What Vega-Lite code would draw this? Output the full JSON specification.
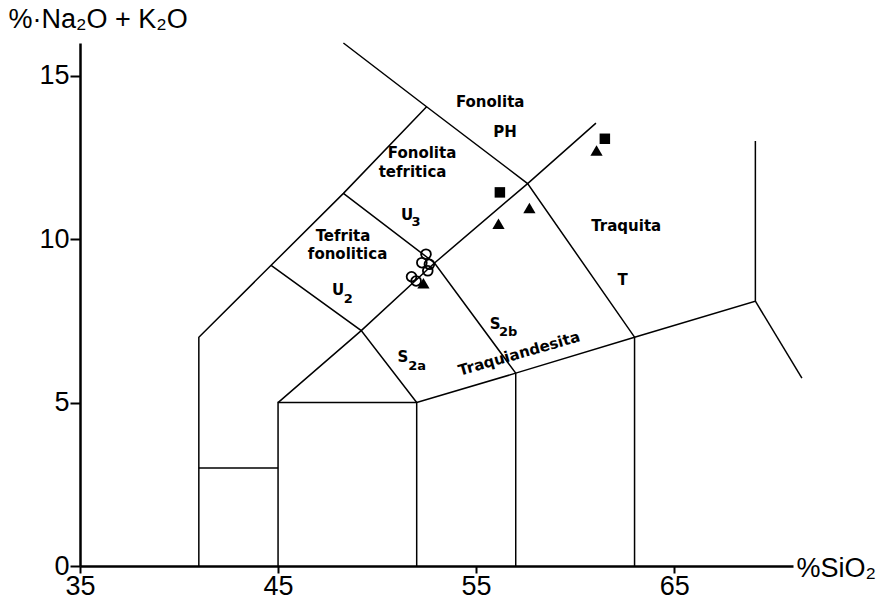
{
  "$schema": "https://vega.github.io/schema/vega-lite/v6.json",
  "autosize": "none",
  "width": 713,
  "height": 523,
  "padding": {"left": 80, "top": 43, "right": 93, "bottom": 41},
  "background": "white",
  "config": {"view": {"stroke": null}},
  "datasets": {
    "bounds": [
      {"seg": "A", "i": 0, "x": 48.3, "y": 16.0},
      {"seg": "A", "i": 1, "x": 52.5, "y": 14.05},
      {"seg": "A", "i": 2, "x": 57.6, "y": 11.7},
      {"seg": "A", "i": 3, "x": 63.0, "y": 7.0},
      {"seg": "A", "i": 4, "x": 63.0, "y": 0.0},
      {"seg": "B", "i": 0, "x": 41.0, "y": 0.0},
      {"seg": "B", "i": 1, "x": 41.0, "y": 7.0},
      {"seg": "B", "i": 2, "x": 44.65, "y": 9.2},
      {"seg": "B", "i": 3, "x": 48.3, "y": 11.4},
      {"seg": "B", "i": 4, "x": 52.5, "y": 14.05},
      {"seg": "C", "i": 0, "x": 41.0, "y": 3.0},
      {"seg": "C", "i": 1, "x": 45.0, "y": 3.0},
      {"seg": "D", "i": 0, "x": 45.0, "y": 0.0},
      {"seg": "D", "i": 1, "x": 45.0, "y": 5.0},
      {"seg": "D", "i": 2, "x": 52.0, "y": 5.0},
      {"seg": "D", "i": 3, "x": 57.0, "y": 5.9},
      {"seg": "D", "i": 4, "x": 63.0, "y": 7.0},
      {"seg": "D", "i": 5, "x": 69.1, "y": 8.1},
      {"seg": "D", "i": 6, "x": 69.1, "y": 13.0},
      {"seg": "E", "i": 0, "x": 69.1, "y": 8.1},
      {"seg": "E", "i": 1, "x": 71.45, "y": 5.75},
      {"seg": "F", "i": 0, "x": 52.0, "y": 0.0},
      {"seg": "F", "i": 1, "x": 52.0, "y": 5.0},
      {"seg": "G", "i": 0, "x": 57.0, "y": 0.0},
      {"seg": "G", "i": 1, "x": 57.0, "y": 5.9},
      {"seg": "H", "i": 0, "x": 45.0, "y": 5.0},
      {"seg": "H", "i": 1, "x": 49.2, "y": 7.2},
      {"seg": "H", "i": 2, "x": 52.9, "y": 9.27},
      {"seg": "H", "i": 3, "x": 57.6, "y": 11.7},
      {"seg": "H", "i": 4, "x": 61.05, "y": 13.55},
      {"seg": "I", "i": 0, "x": 44.65, "y": 9.2},
      {"seg": "I", "i": 1, "x": 49.2, "y": 7.2},
      {"seg": "I", "i": 2, "x": 52.0, "y": 5.0},
      {"seg": "J", "i": 0, "x": 48.3, "y": 11.4},
      {"seg": "J", "i": 1, "x": 52.9, "y": 9.27},
      {"seg": "J", "i": 2, "x": 57.0, "y": 5.9}
    ],
    "circles": [
      {"x": 52.47, "y": 9.54},
      {"x": 52.26, "y": 9.28},
      {"x": 52.64, "y": 9.23},
      {"x": 52.56, "y": 9.03},
      {"x": 51.74, "y": 8.85},
      {"x": 51.97, "y": 8.72}
    ],
    "squares": [
      {"x": 61.5, "y": 13.07},
      {"x": 56.2, "y": 11.43}
    ],
    "triangles": [
      {"x": 61.08, "y": 12.71},
      {"x": 57.69, "y": 10.95},
      {"x": 56.13, "y": 10.47},
      {"x": 52.34, "y": 8.65}
    ],
    "labels": [
      {"label": "Fonolita", "x": 55.71, "y": 14.2},
      {"label": "PH", "x": 56.46, "y": 13.28},
      {"label": "Fonolita", "x": 52.27, "y": 12.62},
      {"label": "tefritica", "x": 51.79, "y": 12.05},
      {"label": "U", "x": 51.52, "y": 10.74},
      {"label": "Tefrita", "x": 48.28, "y": 10.1},
      {"label": "fonolitica", "x": 48.51, "y": 9.53},
      {"label": "U", "x": 48.03, "y": 8.45},
      {"label": "S", "x": 51.31, "y": 6.4},
      {"label": "S", "x": 55.96, "y": 7.41},
      {"label": "Traquita", "x": 62.58, "y": 10.41},
      {"label": "T", "x": 62.4, "y": 8.75}
    ],
    "subs": [
      {"label": "3", "x": 51.97, "y": 10.53},
      {"label": "2", "x": 48.54, "y": 8.17},
      {"label": "2a", "x": 52.02, "y": 6.11},
      {"label": "2b", "x": 56.62, "y": 7.15}
    ],
    "rotated": [
      {"label": "Traquiandesita", "x": 57.17, "y": 6.5}
    ]
  },
  "layer": [
    {
      "data": {"name": "bounds"},
      "mark": {"type": "line", "color": "black", "strokeWidth": 1.5},
      "encoding": {
        "x": {
          "field": "x", "type": "quantitative",
          "scale": {"domain": [35, 71], "nice": false, "zero": false},
          "axis": {
            "values": [35, 45, 55, 65],
            "grid": false, "labelFlush": false,
            "domainColor": "black", "domainWidth": 2.5,
            "tickColor": "black", "tickWidth": 2, "tickSize": 7,
            "labelFont": "Liberation Sans", "labelFontSize": 27,
            "labelColor": "black", "labelPadding": 0,
            "title": "%SiO₂",
            "titleFont": "Liberation Sans", "titleFontSize": 27,
            "titleFontWeight": "normal", "titleColor": "black",
            "titleAnchor": "start", "titleAlign": "left", "titleBaseline": "middle",
            "titleX": 716, "titleY": 2
          }
        },
        "y": {
          "field": "y", "type": "quantitative",
          "scale": {"domain": [0, 16], "nice": false, "zero": false},
          "axis": {
            "values": [0, 5, 10, 15],
            "grid": false, "labelFlush": false,
            "domainColor": "black", "domainWidth": 2.5,
            "tickColor": "black", "tickWidth": 2, "tickSize": 10,
            "labelFont": "Liberation Sans", "labelFontSize": 27,
            "labelColor": "black", "labelPadding": 1,
            "title": "%·Na₂O + K₂O",
            "titleFont": "Liberation Sans", "titleFontSize": 27,
            "titleFontWeight": "normal", "titleColor": "black",
            "titleAngle": 0, "titleAlign": "left", "titleBaseline": "middle",
            "titleX": -72, "titleY": -24
          }
        },
        "detail": {"field": "seg"},
        "order": {"field": "i", "type": "quantitative"}
      }
    },
    {
      "data": {"name": "circles"},
      "mark": {"type": "point", "shape": "circle", "filled": false, "color": "black", "strokeWidth": 1.8, "size": 95, "opacity": 1},
      "encoding": {
        "x": {"field": "x", "type": "quantitative"},
        "y": {"field": "y", "type": "quantitative"}
      }
    },
    {
      "data": {"name": "squares"},
      "mark": {"type": "point", "shape": "square", "filled": true, "color": "black", "size": 110, "opacity": 1},
      "encoding": {
        "x": {"field": "x", "type": "quantitative"},
        "y": {"field": "y", "type": "quantitative"}
      }
    },
    {
      "data": {"name": "triangles"},
      "mark": {"type": "point", "shape": "triangle-up", "filled": true, "color": "black", "size": 150, "opacity": 1},
      "encoding": {
        "x": {"field": "x", "type": "quantitative"},
        "y": {"field": "y", "type": "quantitative"}
      }
    },
    {
      "data": {"name": "labels"},
      "mark": {"type": "text", "font": "DejaVu Sans", "fontSize": 15, "fontWeight": "bold", "color": "black", "align": "center", "baseline": "middle"},
      "encoding": {
        "x": {"field": "x", "type": "quantitative"},
        "y": {"field": "y", "type": "quantitative"},
        "text": {"field": "label"}
      }
    },
    {
      "data": {"name": "subs"},
      "mark": {"type": "text", "font": "DejaVu Sans", "fontSize": 13, "fontWeight": "bold", "color": "black", "align": "center", "baseline": "middle"},
      "encoding": {
        "x": {"field": "x", "type": "quantitative"},
        "y": {"field": "y", "type": "quantitative"},
        "text": {"field": "label"}
      }
    },
    {
      "data": {"name": "rotated"},
      "mark": {"type": "text", "font": "DejaVu Sans", "fontSize": 15, "fontWeight": "bold", "color": "black", "align": "center", "baseline": "middle", "angle": -16},
      "encoding": {
        "x": {"field": "x", "type": "quantitative"},
        "y": {"field": "y", "type": "quantitative"},
        "text": {"field": "label"}
      }
    }
  ]
}
